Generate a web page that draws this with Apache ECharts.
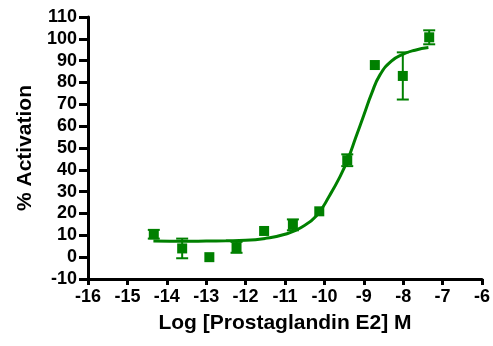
<!DOCTYPE html>
<html>
<head>
<meta charset="utf-8">
<script src="https://cdn.jsdelivr.net/npm/echarts@6/dist/echarts.min.js"></script>
<style>
  html,body{margin:0;padding:0;background:#fff;}
  #chart{width:493px;height:346px;}
</style>
</head>
<body>
<div id="chart"></div>
<script>
  // 浓度(log M)
  var logDose=[-14.33,-13.61,-12.92,-12.23,-11.53,-10.8,-10.13,-9.42,-8.72,-8.01,-7.34];
  // 平均激活率
  var activation=[10.5,4,0,4.5,12,14.8,21,44.4,88,83,100.7];
  // 误差(SEM)
  var sem=[2,4.5,0,2.5,0,2.5,0,2.7,0,10.8,3.2];
  // 拟合曲线
  var fitX=[-14.34,-13.5,-13,-12.5,-12,-11.5,-11,-10.6,-10.2,-9.86,-9.6,-9.4,-9.2,-9.0,-8.8,-8.59,-8.3,-8.0,-7.7,-7.36];
  var fitY=[7.4,7.3,7.4,7.5,7.7,8.6,10.5,13.5,19,28.5,37,45,55,65,75,83.5,89.8,93,94.8,96];

  var green="#008000";
  var font="'Liberation Sans', Arial, sans-serif";

  var points=logDose.map(function(x,i){return [x,activation[i]];});
  // 没有误差的点不画误差线
  var errData=[];
  logDose.forEach(function(x,i){
    if(sem[i]>0){
      errData.push([x,activation[i]-sem[i],activation[i]+sem[i]]);
    }
  });
  var fitData=fitX.map(function(x,i){return [x,fitY[i]];});

  var chart=echarts.init(document.getElementById("chart"));
  chart.setOption({
    animation:false,
    grid:{left:88,right:11,top:17,bottom:67},
    xAxis:{
      type:'value',
      min:-16,max:-6,interval:1,
      name:'Log [Prostaglandin E2] M',
      nameLocation:'middle',
      nameGap:34,
      nameTextStyle:{fontSize:21,fontWeight:'bold',color:'#000',fontFamily:font},
      axisLine:{onZero:false,lineStyle:{color:'#000',width:3}},
      axisTick:{length:6,lineStyle:{color:'#000',width:3}},
      axisLabel:{margin:9,fontSize:18,fontWeight:'bold',color:'#000',fontFamily:font},
      splitLine:{show:false}
    },
    yAxis:{
      type:'value',
      min:-10,max:110,interval:10,
      name:'% Activation',
      nameLocation:'middle',
      nameGap:52,
      nameTextStyle:{fontSize:21,fontWeight:'bold',color:'#000',fontFamily:font},
      axisLine:{onZero:false,lineStyle:{color:'#000',width:3}},
      axisTick:{length:9,lineStyle:{color:'#000',width:3}},
      axisLabel:{margin:11,fontSize:18,fontWeight:'bold',color:'#000',fontFamily:font},
      splitLine:{show:false}
    },
    series:[
      {
        type:'line',
        data:fitData,
        smooth:true,
        showSymbol:false,
        lineStyle:{color:green,width:3},
        z:2
      },
      {
        type:'custom',
        data:errData,
        renderItem:function(params,api){
          var lo=api.coord([api.value(0),api.value(1)]);
          var hi=api.coord([api.value(0),api.value(2)]);
          var w=6;
          var st={stroke:green,lineWidth:2};
          return {
            type:'group',
            children:[
              {type:'line',shape:{x1:lo[0],y1:lo[1],x2:hi[0],y2:hi[1]},style:st},
              {type:'line',shape:{x1:lo[0]-w,y1:lo[1],x2:lo[0]+w,y2:lo[1]},style:st},
              {type:'line',shape:{x1:hi[0]-w,y1:hi[1],x2:hi[0]+w,y2:hi[1]},style:st}
            ]
          };
        },
        z:3
      },
      {
        type:'scatter',
        data:points,
        symbol:'rect',
        symbolSize:10,
        itemStyle:{color:green,opacity:1},
        z:4
      }
    ]
  });
</script>
</body>
</html>
